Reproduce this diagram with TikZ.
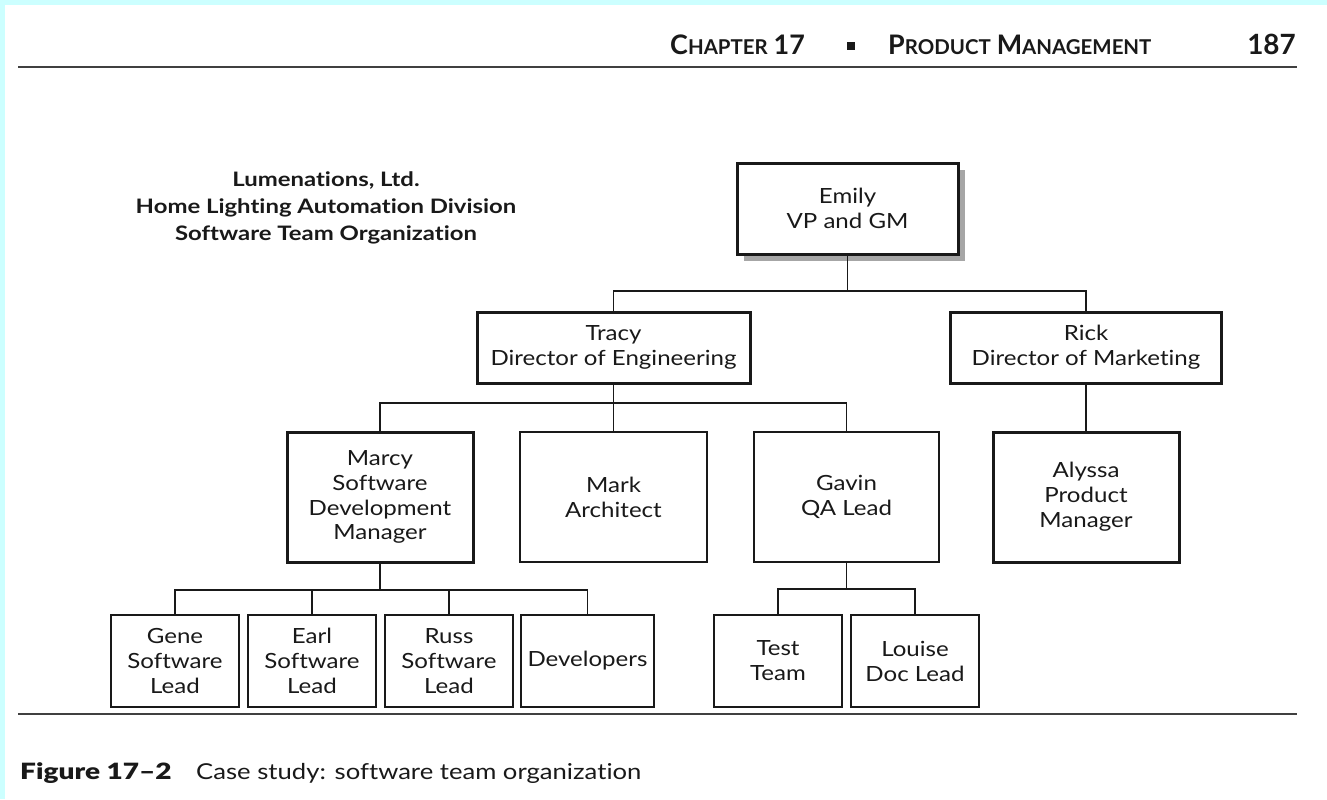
\documentclass[tikz,border=0pt]{standalone}
\usepackage{fontspec}
\setmainfont[Ligatures={NoCommon}]{Lato}
\newfontfamily\boxfont[Ligatures={NoCommon}, FakeStretch=1.15]{Lato}
\newfontfamily\titlefont[Ligatures={NoCommon}, FakeStretch=1.2]{Lato}
\newfontfamily\capfont[Ligatures={NoCommon}, FakeStretch=1.17]{Lato}
\newfontfamily\capboldfont[Ligatures={NoCommon}, FakeStretch=1.25]{Lato Black}
\newfontfamily\headfont[Ligatures={NoCommon}]{Lato}
\usetikzlibrary{shadows}
\definecolor{pagecyan}{RGB}{204,255,255}
\definecolor{ink}{RGB}{25,25,25}
\newcommand{\smallcapsword}[2]{{\fontsize{27}{27}\selectfont #1}{\fontsize{20.5}{20.5}\selectfont #2}}
\begin{document}
\begin{tikzpicture}[x=1bp,y=-1bp,
  orgbox/.style={draw=ink, line width=1.4bp, align=center, inner sep=0pt,
    text=ink, font=\boxfont\fontsize{21}{25}\selectfont},
  majorbox/.style={orgbox, line width=3bp},
  link/.style={draw=ink, line width=1.4bp},
  rulestyle/.style={draw=black!75, line width=1.6bp}]
% page background
\fill[pagecyan] (0,0) rectangle (1327,799);
\fill[white] (5,5) rectangle (1327,799);
\useasboundingbox (0,0) rectangle (1327,799);

% running head
\node[anchor=base west, inner sep=0pt, text=ink] (chap) at (670,55)
  {\headfont\bfseries \smallcapsword{C}{HAPTER}\hspace{6bp}{\fontsize{27}{27}\selectfont 17}};
\node[anchor=center, inner sep=0pt, fill=ink, minimum size=8bp] (bullet) at (851,46) {};
\node[anchor=base west, inner sep=0pt, text=ink] (sect) at (888,55)
  {\headfont\bfseries \smallcapsword{P}{RODUCT}\hspace{6bp}\smallcapsword{M}{ANAGEMENT}};
\node[anchor=base east, inner sep=0pt, text=ink] (pagenum) at (1296,55)
  {\headfont\bfseries\fontsize{28}{28}\selectfont 187};
\draw[rulestyle] (18,67) -- (1297,67);

% title block
\node[align=center, inner sep=0pt, text=ink, font=\titlefont\bfseries\fontsize{20}{27}\selectfont] (title) at (326,208)
  {Lumenations, Ltd.\\Home Lighting Automation Division\\Software Team Organization};

% boxes
\node[majorbox, minimum width=221bp, minimum height=91bp,
  drop shadow={shadow xshift=7bp, shadow yshift=-7bp, fill=black!35, opacity=1}, fill=white]
  (emily) at (847.5,208.5) {Emily\\VP and GM};
\node[majorbox, minimum width=273bp, minimum height=71bp] (tracy) at (613.5,347.5)
  {Tracy\\Director of Engineering};
\node[majorbox, minimum width=271bp, minimum height=71bp] (rick) at (1086,347.5)
  {Rick\\Director of Marketing};

\node[majorbox, minimum width=186bp, minimum height=130bp] (marcy) at (380,497)
  {Marcy\\Software\\Development\\Manager};
\node[orgbox, minimum width=187bp, minimum height=130bp] (mark) at (613.5,497)
  {Mark\\Architect};
\node[orgbox, minimum width=185bp, minimum height=130bp] (gavin) at (846.5,497)
  {Gavin\\QA Lead};
\node[majorbox, minimum width=186bp, minimum height=130bp] (alyssa) at (1086,497)
  {Alyssa\\Product\\Manager};

\node[orgbox, minimum width=128bp, minimum height=92bp] (gene) at (175,661)
  {Gene\\Software\\Lead};
\node[orgbox, minimum width=128bp, minimum height=92bp] (earl) at (312,661)
  {Earl\\Software\\Lead};
\node[orgbox, minimum width=128bp, minimum height=92bp] (russ) at (449,661)
  {Russ\\Software\\Lead};
\node[orgbox, minimum width=133bp, minimum height=92bp] (devs) at (587.5,661)
  {Developers};
\node[orgbox, minimum width=128bp, minimum height=92bp] (test) at (778,661)
  {Test\\Team};
\node[orgbox, minimum width=128bp, minimum height=92bp] (louise) at (915,661)
  {Louise\\Doc Lead};

% connectors
\coordinate (busA) at (847.5,291);
\draw[link] (emily.south) -- (busA);
\draw[link] (tracy.north) |- (busA) -| (rick.north);

\coordinate (busB) at (613.5,403);
\draw[link] (tracy.south) -- (mark.north);
\draw[link] (marcy.north) |- (busB) -| (gavin.north);
\draw[link] (rick.south) -- (alyssa.north);

\coordinate (busC) at (380,590);
\draw[link] (marcy.south) -- (busC);
\draw[link] (gene.north) |- (busC) -| (devs.north);
\draw[link] (earl.north) -- (earl.north |- busC);
\draw[link] (russ.north) -- (russ.north |- busC);

\coordinate (busD) at (846.5,589);
\draw[link] (gavin.south) -- (busD);
\draw[link] (test.north) |- (busD) -| (louise.north);

% caption
\draw[rulestyle] (18,714) -- (1297,714);
\node[anchor=base west, inner sep=0pt, text=ink] (capnum) at (20,779)
  {\capboldfont\fontsize{22.5}{22.5}\selectfont Figure 17–2};
\node[anchor=base west, inner sep=0pt, text=ink] (captext) at (196,779)
  {\capfont\fontsize{22}{22}\selectfont Case study: software team organization};
\end{tikzpicture}
\end{document}
